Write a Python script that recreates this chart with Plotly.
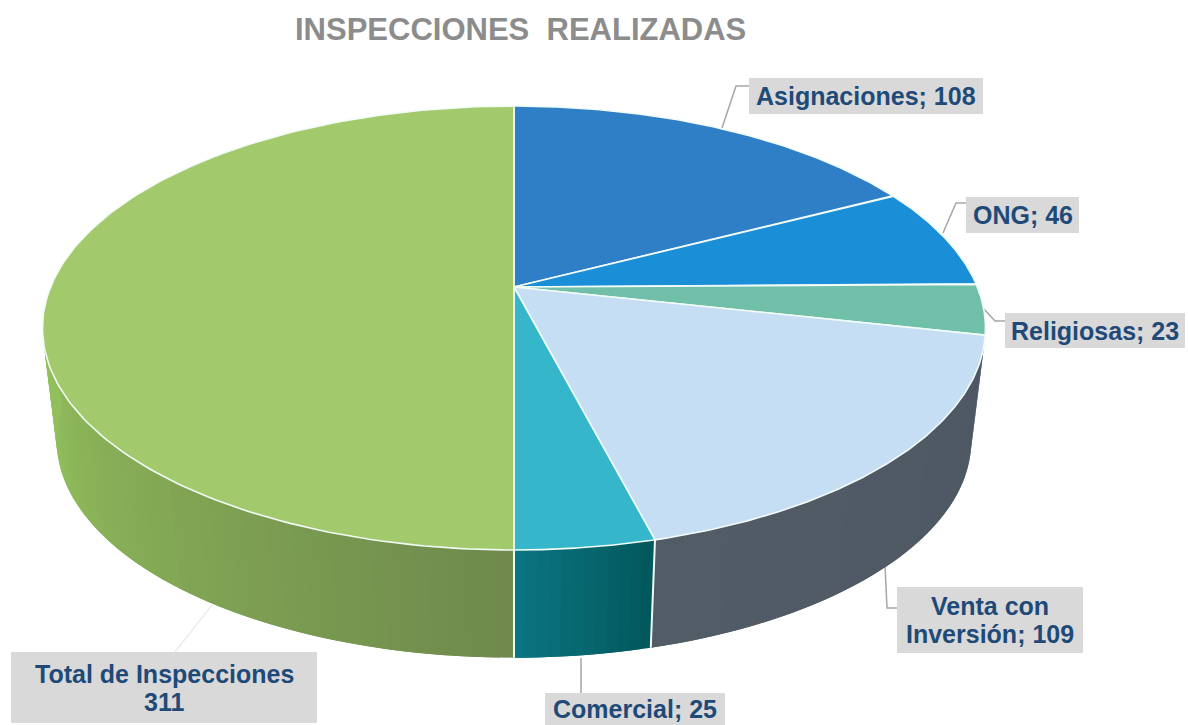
"""
Inspecciones realizadas: 3D looking pie drawn with filled Scatter traces.
"""

import numpy as np
import plotly.graph_objects as go

CATEGORIES = ["Asignaciones", "ONG", "Religiosas", "Venta con Inversión", "Comercial", "Total de Inspecciones"]
VALUES = [108, 46, 23, 109, 25, 311]
LABELS = ["Asignaciones; 108", "ONG; 46", "Religiosas; 23", "Venta con<br>Inversión; 109",
          "Comercial; 25", "Total de Inspecciones<br>311"]
TITLE = "INSPECCIONES\u00a0\u00a0REALIZADAS"

TOP_COLORS = ["#2f7fc6", "#1a8fd8", "#70c0a9", "#c6def4", "#35b6ca", "#a3c96d"]
SIDE_COLORS = {
    3: ("#4e5864", "#525c67"),
    4: ("#02595d", "#0a7480"),
    5: ("#6f8a4c", "#92bf5c"),
}
TEXT_COLOR = "#1f4a78"
BOX_COLOR = "#d9d9d9"
LEADER_COLOR = "#a6a6a6"

# perspective of the disc, in page pixels
CX, CY = 514, 287
BX, AY, K = 463.4, 214.4, 0.1847
DEPTH, SX, SY = 113, 0.97, 0.98

# x, y, width, height of every label box
BOXES = [(749, 78, 234, 36), (966, 197, 113, 36), (1005, 313, 180, 35),
         (897, 587, 186, 66), (545, 693, 180, 32), (11, 652, 306, 71)]
LEADERS = ["M722,128 L736,86 L749,86", "M943,233 L956,203 L966,203", "M983,308 L995,321 L1005,321",
           "M885,565 L887,608 L898,608", "M581,658 L581,693", "M212,605 L175,652"]


def rim(theta, bottom=False):
    u, v = np.sin(theta), np.cos(theta)
    w = 1 + K * v
    if bottom:
        return CX + SX * BX * u / w, CY + DEPTH - SY * AY * v / w
    return CX + BX * u / w, CY - AY * v / w


def mix(c0, c1, t):
    a = [int(c0[i:i + 2], 16) for i in (1, 3, 5)]
    b = [int(c1[i:i + 2], 16) for i in (1, 3, 5)]
    return "rgb(%d,%d,%d)" % tuple(round(p + (q - p) * t) for p, q in zip(a, b))


edges = np.concatenate([[0], np.cumsum(VALUES)]) / sum(VALUES) * 2 * np.pi
fig = go.Figure()

# ── Side walls ───────────────────────────────────────────────────────
for idx, (c0, c1) in SIDE_COLORS.items():
    start, end = edges[idx], edges[idx + 1]
    if idx == 3:
        start += 0.03  # wall comes out from behind the top face
    end = min(end, np.radians(268))  # past that the wall is hidden
    steps = np.linspace(start, end, 61 if idx != 4 else 13)
    for n in range(len(steps) - 1):
        # each strip runs under the next one, so no seams show
        t = np.linspace(steps[n], steps[min(n + 2, len(steps) - 1)], 5)
        xt, yt = rim(t)
        xb, yb = rim(t[::-1], bottom=True)
        # colour stops changing near the left edge, where strips overlap at a slant
        shade = n / (len(steps) - 2) / (0.85 if idx == 5 else 1)
        color = mix(c0, c1, min(shade, 1))
        fig.add_trace(go.Scatter(
            x=np.concatenate([xt, xb]), y=np.concatenate([yt, yb]),
            mode="lines", fill="toself", fillcolor=color,
            line=dict(color=color, width=0), hoverinfo="skip",
        ))

# white separators on the wall
for angle in (edges[4], edges[5]):
    xt, yt = rim(angle)
    xb, yb = rim(angle, bottom=True)
    fig.add_trace(go.Scatter(x=[xt, xb], y=[yt, yb], mode="lines",
                             line=dict(color="#eef8f4", width=2), hoverinfo="skip"))

# ── Top face ─────────────────────────────────────────────────────────
for idx, name in enumerate(CATEGORIES):
    t = np.linspace(edges[idx], edges[idx + 1], 160)
    xr, yr = rim(t)
    fig.add_trace(go.Scatter(
        x=np.concatenate([[CX], xr, [CX]]), y=np.concatenate([[CY], yr, [CY]]),
        mode="lines", fill="toself", fillcolor=TOP_COLORS[idx],
        line=dict(color="#f2fbf6", width=1.6),
        name=name, text=f"{name}: {VALUES[idx]}", hoveron="fills", hoverinfo="text",
    ))

# ── Labels ───────────────────────────────────────────────────────────
for idx, text in enumerate(LABELS):
    x, y, w, h = BOXES[idx]
    fig.add_shape(type="path", path=LEADERS[idx], layer="below",
                  line=dict(color="#ececec" if idx == 5 else LEADER_COLOR, width=1.5))
    fig.add_shape(type="rect", x0=x, x1=x + w, y0=y, y1=y + h, layer="above",
                  fillcolor=BOX_COLOR, line=dict(width=0))
    lines = text.split("<br>")
    for n, line in enumerate(lines):
        # lines sit 28 px apart, closer than the annotation's own line spacing
        fig.add_annotation(
            x=x + w / 2, y=y + h / 2 + 28 * (n - (len(lines) - 1) / 2),
            text=f"<b>{line}</b>", showarrow=False,
            font=dict(family="Liberation Sans", size=25, color=TEXT_COLOR),
        )

fig.add_annotation(x=520, y=29, text=f"<b>{TITLE}</b>", showarrow=False,
                   font=dict(family="Liberation Sans", size=31, color="#8c8c8c"))

fig.update_layout(
    width=1189, height=725, showlegend=False, margin=dict(l=0, r=0, t=0, b=0),
    paper_bgcolor="white", plot_bgcolor="white",
    xaxis=dict(visible=False, range=[0, 1189], fixedrange=True),
    yaxis=dict(visible=False, range=[725, 0], fixedrange=True),
)
fig.write_html("out.html", config=dict(displayModeBar=False),
               post_script="document.body.style.margin = '0';")
